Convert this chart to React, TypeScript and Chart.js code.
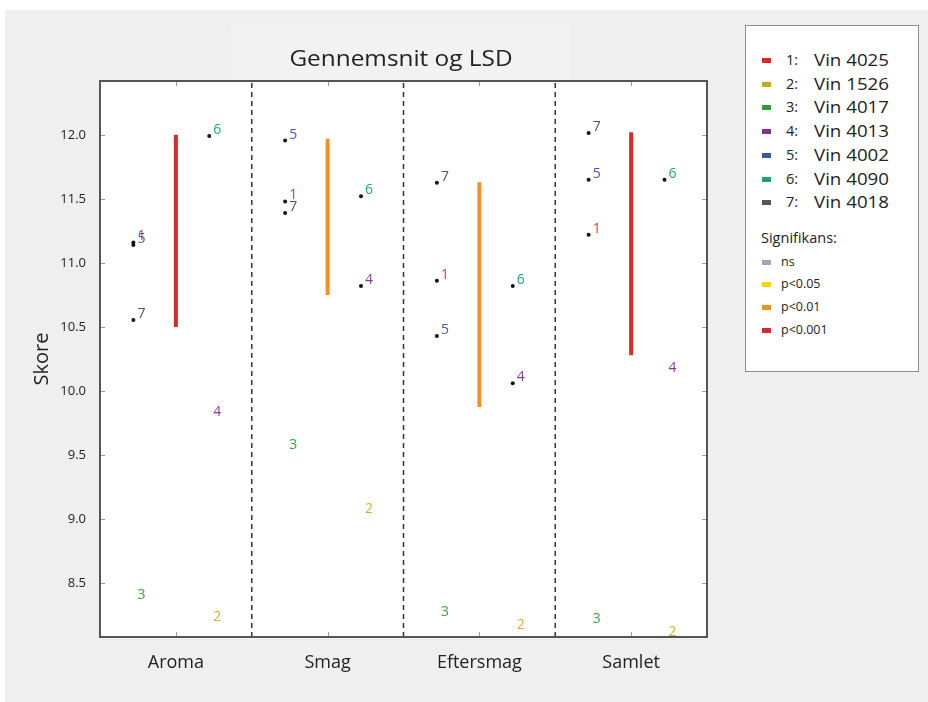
import React, { useEffect, useRef } from 'react';
import { Chart, registerables } from 'chart.js';

Chart.register(...registerables);

// ---------- data ----------
const categories = ['Aroma', 'Smag', 'Eftersmag', 'Samlet'];
const yTickValues = [8.5, 9.0, 9.5, 10.0, 10.5, 11.0, 11.5, 12.0];
const yMin = 8.08;
const yMax = 12.42;

const wineNumbers = ['1', '2', '3', '4', '5', '6', '7'];
const wineNames = ['Vin 4025', 'Vin 1526', 'Vin 4017', 'Vin 4013', 'Vin 4002', 'Vin 4090', 'Vin 4018'];

// means per category (Aroma, Smag, Eftersmag, Samlet)
const vin4025 = [11.16, 11.48, 10.86, 11.22];
const vin1526 = [8.19, 9.03, 8.125, 8.07];
const vin4017 = [8.36, 9.53, 8.23, 8.17];
const vin4013 = [9.79, 10.82, 10.06, 10.13];
const vin4002 = [11.14, 11.955, 10.43, 11.65];
const vin4090 = [11.99, 11.52, 10.82, 11.65];
const vin4018 = [10.555, 11.39, 11.625, 12.015];

const lsdLow = [10.5, 10.75, 9.875, 10.28];
const lsdHigh = [12.0, 11.97, 11.63, 12.02];
const lsdSignificance = ['p<0.001', 'p<0.01', 'p<0.01', 'p<0.001'];
const significanceLevels = ['ns', 'p<0.05', 'p<0.01', 'p<0.001'];

// ---------- styles ----------
const wineMeans = [vin4025, vin1526, vin4017, vin4013, vin4002, vin4090, vin4018];
const wineColors = ['#e23b36', '#dcae2a', '#3aa63e', '#8c3a98', '#3f59b3', '#1fa480', '#555555'];
const wineSwatch = ['#d42a2a', '#c9a721', '#2f9e3a', '#8a2e8a', '#3558b0', '#1fa07a', '#555555'];
const wineOffset = [-0.28, 0.22, -0.28, 0.22, -0.28, 0.22, -0.28];
const wineDotShown = [
  [true, true, true, true],
  [false, false, false, false],
  [false, false, false, false],
  [false, true, true, false],
  [true, true, true, true],
  [true, true, true, true],
  [true, true, true, true],
];
const sigColors: Record<string, string> = {
  ns: '#a3a3bb',
  'p<0.05': '#f1d517',
  'p<0.01': '#f0902a',
  'p<0.001': '#d92a2a',
};

const FONT = '"Open Sans", "DejaVu Sans", sans-serif';

const labelPlugin = {
  id: 'wineLabels',
  afterDatasetsDraw(chart: any) {
    const ctx = chart.ctx;
    ctx.save();
    ctx.font = `14px ${FONT}`;
    ctx.textAlign = 'left';
    ctx.textBaseline = 'middle';
    chart.data.datasets.forEach((ds: any, i: number) => {
      if (ds.wineIndex === undefined) return;
      const meta = chart.getDatasetMeta(i);
      meta.data.forEach((pt: any) => {
        ctx.fillStyle = wineColors[ds.wineIndex];
        ctx.fillText(wineNumbers[ds.wineIndex], pt.x + 4, pt.y - 6);
      });
    });
    ctx.restore();
  },
};

const framePlugin = {
  id: 'frame',
  beforeDraw(chart: any) {
    const { ctx, chartArea: a } = chart;
    ctx.save();
    ctx.fillStyle = '#ffffff';
    ctx.fillRect(a.left, a.top, a.right - a.left, a.bottom - a.top);
    ctx.restore();
  },
  afterDraw(chart: any) {
    const { ctx, chartArea: a, scales } = chart;
    ctx.save();
    ctx.strokeStyle = '#9a9a9a';
    ctx.lineWidth = 1;
    ctx.beginPath();
    yTickValues.forEach((v) => {
      const py = Math.round(scales.y.getPixelForValue(v)) + 0.5;
      ctx.moveTo(a.left, py);
      ctx.lineTo(a.left + 5, py);
      ctx.moveTo(a.right - 5, py);
      ctx.lineTo(a.right, py);
    });
    categories.forEach((_, i) => {
      const px = Math.round(scales.x.getPixelForValue(i + 1)) + 0.5;
      ctx.moveTo(px, a.top);
      ctx.lineTo(px, a.top + 5);
      ctx.moveTo(px, a.bottom - 5);
      ctx.lineTo(px, a.bottom);
    });
    ctx.stroke();
    ctx.strokeStyle = '#555555';
    ctx.lineWidth = 2;
    ctx.strokeRect(a.left, a.top, a.right - a.left, a.bottom - a.top);
    ctx.restore();
  },
};

export default function App() {
  const canvasRef = useRef<HTMLCanvasElement | null>(null);

  useEffect(() => {
    if (!canvasRef.current) return;
    const datasets: any[] = [];

    // separators between categories
    for (let i = 1; i < categories.length; i++) {
      datasets.push({
        type: 'line',
        data: [
          { x: i + 0.5, y: yMin },
          { x: i + 0.5, y: yMax },
        ],
        borderColor: '#333333',
        borderWidth: 1.5,
        borderDash: [5, 4],
        pointRadius: 0,
        order: 3,
      });
    }

    // LSD bars
    categories.forEach((_, i) => {
      datasets.push({
        type: 'line',
        data: [
          { x: i + 1, y: lsdLow[i] },
          { x: i + 1, y: lsdHigh[i] },
        ],
        borderColor: sigColors[lsdSignificance[i]],
        borderWidth: 4,
        pointRadius: 0,
        order: 2,
      });
    });

    // wine means
    wineMeans.forEach((vals, w) => {
      datasets.push({
        type: 'scatter',
        wineIndex: w,
        data: vals.map((v, i) => ({ x: i + 1 + wineOffset[w], y: v })),
        pointRadius: vals.map((_, i) => (wineDotShown[w][i] ? 2 : 0)),
        pointBackgroundColor: '#111111',
        pointBorderWidth: 0,
        order: 1,
      });
    });

    const chart = new Chart(canvasRef.current, {
      type: 'scatter',
      data: { datasets },
      plugins: [framePlugin, labelPlugin],
      options: {
        animation: false,
        responsive: false,
        layout: { padding: { top: 81, right: 221, bottom: 0, left: 0 } },
        plugins: {
          legend: { display: false },
          tooltip: { enabled: false },
          title: { display: false },
        },
        scales: {
          x: {
            type: 'linear',
            min: 0.5,
            max: 4.5,
            afterBuildTicks: (s: any) => {
              s.ticks = categories.map((_, i) => ({ value: i + 1 }));
            },
            afterFit: (s: any) => {
              s.height = 65;
            },
            ticks: {
              callback: (v: any) => categories[Math.round(Number(v)) - 1] ?? '',
              font: { family: FONT, size: 18 },
              color: '#222222',
              padding: 15,
              maxRotation: 0,
              autoSkip: false,
            },
            grid: { display: false, drawTicks: false },
            border: { display: false },
          },
          y: {
            type: 'linear',
            min: yMin,
            max: yMax,
            afterBuildTicks: (s: any) => {
              s.ticks = yTickValues.map((v) => ({ value: v }));
            },
            afterFit: (s: any) => {
              s.width = 100;
            },
            ticks: {
              callback: (v: any) => Number(v).toFixed(1),
              font: { family: FONT, size: 13 },
              color: '#222222',
              padding: 14,
            },
            title: {
              display: true,
              text: 'Skore',
              font: { family: FONT, size: 20 },
              color: '#222222',
              padding: { top: 30, bottom: 0 },
            },
            grid: { display: false, drawTicks: false },
            border: { display: false },
          },
        },
      },
    } as any);

    return () => chart.destroy();
  }, []);

  const rowTop = (i: number) => 34 + 23.7 * i;
  const sigTop = (i: number) => 235.7 + 22.6 * i;

  return (
    <div style={{ position: 'fixed', left: 0, top: 0, width: 928, height: 702, background: '#ffffff', overflow: 'hidden' }}>
      <div style={{ position: 'absolute', left: 5, top: 10, width: 923, height: 692, background: '#efefef' }} />
      <div style={{ position: 'absolute', left: 231, top: 25, width: 340, height: 56, background: '#f2f2f2' }} />
      <canvas ref={canvasRef} width={928} height={702} style={{ position: 'absolute', left: 0, top: 0 }} />
      <div
        style={{
          position: 'absolute',
          left: 201,
          top: 43,
          width: 400,
          textAlign: 'center',
          fontFamily: FONT,
          fontSize: 21,
          lineHeight: '30px',
          color: '#222',
          transform: 'scaleX(1.16)',
        }}
      >
        Gennemsnit og LSD
      </div>
      <div
        style={{
          position: 'absolute',
          left: 745,
          top: 25,
          width: 174,
          height: 347,
          background: '#ffffff',
          border: '1px solid #8f8f8f',
          boxSizing: 'border-box',
          fontFamily: FONT,
          color: '#222',
        }}
      >
        {wineNames.map((name, i) => (
          <div key={name} style={{ position: 'absolute', left: 0, top: rowTop(i) - 12, height: 24, width: 172 }}>
            <div style={{ position: 'absolute', left: 16, top: 10, width: 9, height: 5, background: wineSwatch[i] }} />
            <div style={{ position: 'absolute', left: 40, top: 0, lineHeight: '24px', fontSize: 14.5 }}>{wineNumbers[i]}:</div>
            <div
              style={{
                position: 'absolute',
                left: 68,
                top: 0,
                lineHeight: '24px',
                fontSize: 17,
                whiteSpace: 'nowrap',
                transform: 'scaleX(1.1)',
                transformOrigin: 'left center',
              }}
            >
              {name}
            </div>
          </div>
        ))}
        <div style={{ position: 'absolute', left: 15, top: 212 - 12, lineHeight: '24px', fontSize: 14.5 }}>Signifikans:</div>
        {significanceLevels.map((lvl, i) => (
          <div key={lvl} style={{ position: 'absolute', left: 0, top: sigTop(i) - 11, height: 22, width: 172 }}>
            <div style={{ position: 'absolute', left: 16, top: 9, width: 9, height: 5, background: sigColors[lvl] }} />
            <div style={{ position: 'absolute', left: 35, top: 0, lineHeight: '22px', fontSize: 12.5, whiteSpace: 'nowrap' }}>{lvl}</div>
          </div>
        ))}
      </div>
    </div>
  );
}
